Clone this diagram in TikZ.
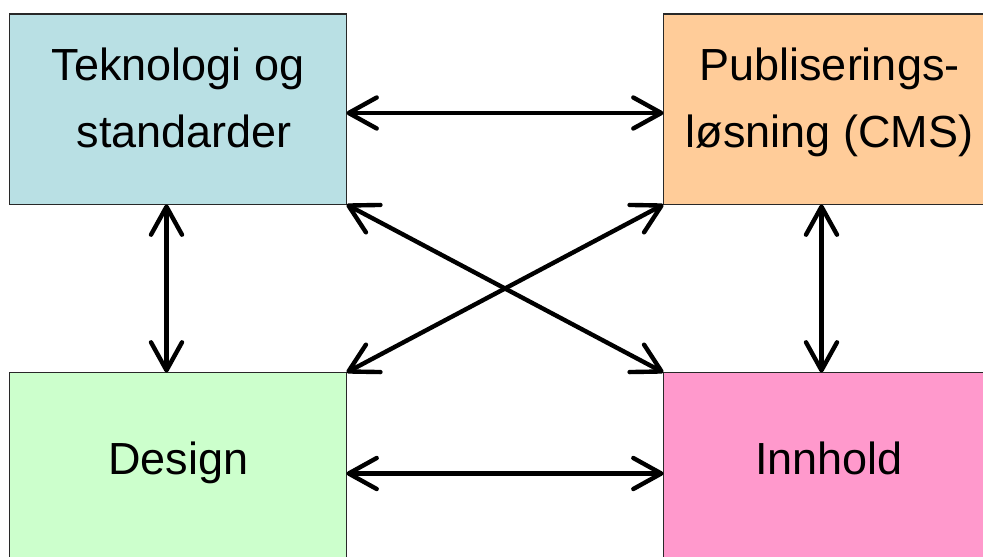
\documentclass[tikz,border=0pt]{standalone}
\usepackage{fontspec}
\setmainfont{Liberation Sans}
\usetikzlibrary{arrows.meta}
\definecolor{tekcol}{RGB}{185,224,228}
\definecolor{pubcol}{RGB}{255,204,153}
\definecolor{descol}{RGB}{204,255,204}
\definecolor{inncol}{RGB}{255,153,204}
\definecolor{edgecol}{RGB}{40,40,40}
\begin{document}
\begin{tikzpicture}[x=1pt,y=1pt,
  box/.style={draw=edgecol, line width=1.8pt, minimum width=337pt, minimum height=190.5pt,
    inner sep=0pt, outer sep=0pt, anchor=north west},
  lbl/.style={font=\fontsize{45}{67}\selectfont, align=center, anchor=base, inner sep=0pt},
  barb/.tip={Straight Barb[length=28pt,width=31pt,line cap=round,line join=round]},
  link/.style={line width=4.4pt, line cap=round, barb-barb}]
\useasboundingbox (0,0) rectangle (983,-557);
\node[box, fill=tekcol] (tek) at (9.5,-14) {};
\node[box, fill=pubcol] (pub) at (663.5,-14) {};
\node[box, fill=descol] (des) at (9.5,-372.5) {};
\node[box, fill=inncol] (inn) at (663.5,-372.5) {};
\node[lbl] (tekt) at (178,-147) {Teknologi og\\\ standarder};
\node[lbl] (pubt) at (829.5,-147) {Publiserings-\\løsning (CMS)};
\node[lbl] (dest) at (178.5,-474) {Design};
\node[lbl] (innt) at (829,-474) {Innhold};
\draw[link] ([yshift=-99pt]tek.north east) -- ([yshift=-99pt]pub.north west);
\draw[link] ([yshift=-101pt]des.north east) -- ([yshift=-101pt]inn.north west);
\draw[link] ([xshift=157pt]tek.south west) -- ([xshift=157pt]des.north west);
\draw[link] ([xshift=158pt]pub.south west) -- ([xshift=158pt]inn.north west);
\draw[link] (tek.south east) -- (inn.north west);
\draw[link] (pub.south west) -- (des.north east);
\end{tikzpicture}
\end{document}
